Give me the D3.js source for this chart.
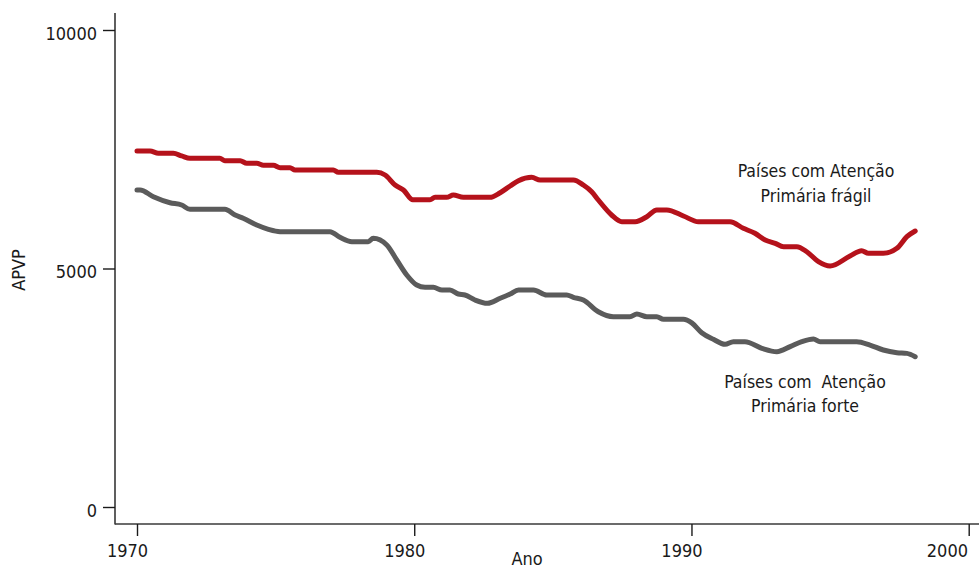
<!DOCTYPE html>
<html>
<head>
<meta charset="utf-8">
<script src="https://cdn.jsdelivr.net/npm/d3@7"></script>
<style>
  html, body { margin: 0; padding: 0; background: #fff; }
  svg { display: block; }
  text { font-family: "DejaVu Sans Condensed", "Liberation Sans Narrow", sans-serif; font-stretch: condensed; fill: #1a1a1a; }
</style>
</head>
<body>
<svg id="chart" width="979" height="568"></svg>
<script>
// ---- Data ----
const fragilYears = [1970.0, 1970.47, 1970.77, 1971.31, 1971.61, 1971.91, 1972.99, 1973.17, 1973.72, 1973.96,
  1974.32, 1974.56, 1974.92, 1975.16, 1975.52, 1975.70, 1977.08, 1977.26, 1978.65, 1978.95,
  1979.31, 1979.61, 1979.95, 1980.57, 1980.75, 1981.17, 1981.41, 1981.77, 1982.73, 1983.10,
  1983.46, 1983.76, 1984.24, 1984.54, 1985.74, 1986.10, 1986.40, 1986.64, 1987.12, 1987.49,
  1987.97, 1988.39, 1988.75, 1989.11, 1989.71, 1990.25, 1991.39, 1991.87, 1992.29, 1992.66,
  1993.02, 1993.32, 1993.80, 1994.16, 1994.58, 1995.00, 1995.72, 1996.14, 1996.38, 1996.92,
  1997.41, 1997.77, 1998.07];
const fragilValues = [7463, 7463, 7415, 7415, 7360, 7310, 7310, 7260, 7260, 7205,
  7205, 7163, 7163, 7113, 7113, 7065, 7065, 7017, 7017, 6960,
  6750, 6646, 6440, 6440, 6493, 6493, 6540, 6493, 6493, 6589,
  6730, 6841, 6912, 6855, 6855, 6750, 6610, 6436, 6122, 5981,
  5981, 6086, 6226, 6226, 6101, 5981, 5981, 5843, 5738, 5597,
  5528, 5458, 5458, 5352, 5143, 5052, 5262, 5373, 5318, 5318,
  5423, 5667, 5786];

const forteYears = [1970.0, 1970.11, 1970.59, 1971.19, 1971.61, 1971.91, 1973.17, 1973.54, 1973.83, 1974.32,
  1974.74, 1975.16, 1976.96, 1977.32, 1977.75, 1978.34, 1978.52, 1979.01, 1979.37, 1979.73,
  1980.09, 1980.39, 1980.69, 1981.00, 1981.29, 1981.59, 1981.83, 1982.19, 1982.64, 1983.10,
  1983.46, 1983.76, 1984.30, 1984.78, 1985.50, 1985.74, 1986.10, 1986.64, 1987.18, 1987.78,
  1988.03, 1988.39, 1988.75, 1988.99, 1989.71, 1990.01, 1990.37, 1990.79, 1991.21, 1991.51,
  1991.93, 1992.54, 1993.08, 1993.56, 1993.98, 1994.40, 1994.64, 1995.96, 1996.44, 1996.92,
  1997.41, 1997.77, 1998.07];
const forteValues = [6646, 6646, 6505, 6379, 6331, 6241, 6241, 6122, 6052, 5912,
  5821, 5772, 5772, 5654, 5562, 5562, 5633, 5493, 5178, 4864,
  4654, 4606, 4606, 4549, 4549, 4465, 4445, 4340, 4270, 4375,
  4465, 4549, 4549, 4444, 4444, 4396, 4340, 4094, 3990, 3990,
  4046, 3990, 3990, 3935, 3935, 3860, 3654, 3516, 3411, 3466,
  3466, 3327, 3256, 3361, 3466, 3522, 3466, 3466, 3396, 3291,
  3235, 3221, 3151];

const xTickValues = [1970, 1980, 1990, 2000];
const yTickValues = [0, 5000, 10000];
const xTitle = "Ano";
const yTitle = "APVP";
const labelFragil = ["Países com Atenção", "Primária frágil"];
const labelForte = ["Países com  Atenção", "Primária forte"];

// ---- Layout ----
const W = 979;
const svg = d3.select("#chart");
const axisX = 115, axisY = 524;
const x = d3.scaleLinear().domain([1970, 2000]).range([137, 968.7]);
const y = d3.scaleLinear().domain([0, 10000]).range([507, 30]);

// Axis lines
svg.append("line").attr("x1", axisX).attr("x2", axisX).attr("y1", 13).attr("y2", axisY + 0.5)
  .attr("stroke", "#1a1a1a").attr("stroke-width", 1.4);
svg.append("line").attr("x1", axisX).attr("x2", W).attr("y1", axisY).attr("y2", axisY)
  .attr("stroke", "#3a3a3a").attr("stroke-width", 1.4);

// X axis
const gx = svg.append("g").attr("transform", `translate(0,${axisY})`)
  .call(d3.axisBottom(x).tickValues(xTickValues).tickFormat(d3.format("d")).tickSize(12).tickPadding(8));
gx.select(".domain").remove();
gx.selectAll(".tick line").attr("stroke", "#1a1a1a").attr("stroke-width", 1.4);
gx.selectAll(".tick text").attr("font-size", 18).attr("fill", "#1a1a1a").attr("dx", -10);
// keep the last label inside the picture, as in the reference
gx.selectAll(".tick text").each(function () {
  const bb = this.getBBox();
  const tr = this.parentNode.getAttribute("transform");
  const tx = +/translate\(([-\d.]+)/.exec(tr)[1];
  const right = tx + bb.x + bb.width;
  if (right > W - 11) d3.select(this).attr("dx", -10 - (right - (W - 11)));
});

// Y axis
const gy = svg.append("g").attr("transform", `translate(${axisX},0)`)
  .call(d3.axisLeft(y).tickValues(yTickValues).tickFormat(d3.format("d")).tickSize(12).tickPadding(6));
gy.select(".domain").remove();
gy.selectAll(".tick line").attr("stroke", "#1a1a1a").attr("stroke-width", 1.4);
gy.selectAll(".tick text").attr("font-size", 18).attr("dy", "0.5em").attr("fill", "#1a1a1a");

// Titles
svg.append("text").attr("x", 527).attr("y", 565).attr("text-anchor", "middle")
  .attr("font-size", 18).text(xTitle);
svg.append("text").attr("transform", "translate(25,270) rotate(-90)").attr("text-anchor", "middle")
  .attr("font-size", 18).text(yTitle);

// Lines
const line = d3.line().x(d => x(d[0])).y(d => y(d[1])).curve(d3.curveMonotoneX);
const fragil = fragilYears.map((yr, i) => [yr, fragilValues[i]]);
const forte = forteYears.map((yr, i) => [yr, forteValues[i]]);

svg.append("path").datum(forte).attr("d", line).attr("fill", "none")
  .attr("stroke", "#5b5b5b").attr("stroke-width", 5).attr("stroke-linejoin", "round").attr("stroke-linecap", "round");
svg.append("path").datum(fragil).attr("d", line).attr("fill", "none")
  .attr("stroke", "#b5121b").attr("stroke-width", 5).attr("stroke-linejoin", "round").attr("stroke-linecap", "round");

// Annotations
function label(lines, cx, y0, dy) {
  const t = svg.append("text").attr("text-anchor", "middle").attr("font-size", 17.5).style("white-space", "pre");
  lines.forEach((s, i) => t.append("tspan").attr("x", cx).attr("y", y0 + i * dy).text(s));
}
label(labelFragil, 816, 177, 25);
label(labelForte, 805, 388, 24);
</script>
</body>
</html>
